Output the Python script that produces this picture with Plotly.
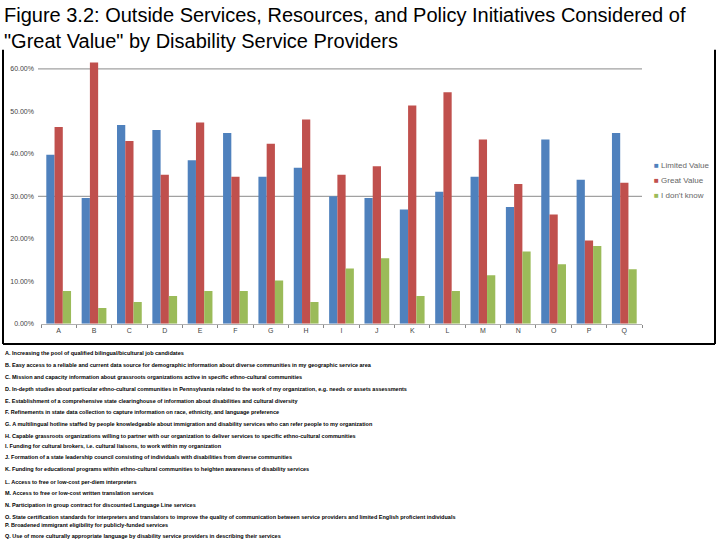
import plotly.graph_objects as go

categories = list("ABCDEFGHIJKLMNOPQ")
limited_value = [39.8, 29.6, 46.8, 45.6, 38.5, 44.9, 34.6, 36.7, 30.0, 29.6, 26.9, 31.1, 34.6, 27.5, 43.4, 33.9, 44.9]
great_value = [46.3, 61.5, 43.0, 35.1, 47.4, 34.6, 42.4, 48.1, 35.1, 37.1, 51.4, 54.5, 43.4, 32.9, 25.7, 19.6, 33.2]
dont_know = [7.7, 3.7, 5.1, 6.5, 7.7, 7.7, 10.2, 5.1, 13.0, 15.4, 6.5, 7.7, 11.4, 17.0, 14.0, 18.3, 12.8]
series_names = ["Limited Value", "Great Value", "I don't know"]
y_ticks = [0, 0.1, 0.2, 0.3, 0.4, 0.5, 0.6]
grid_values = [0.3, 0.6]

notes = [
    "A. Increasing the pool of qualified bilingual/bicultural job candidates",
    "B. Easy access to a reliable and current data source for demographic information about diverse communities in my geographic service area",
    "C. Mission and capacity information about grassroots organizations active in specific ethno-cultural communities",
    "D. In-depth studies about particular ethno-cultural communities in Pennsylvania related to the work of my organization, e.g. needs or assets assessments",
    "E. Establishment of a comprehensive state clearinghouse of information about disabilities and cultural diversity",
    "F. Refinements in state data collection to capture information on race, ethnicity, and language preference",
    "G. A multilingual hotline staffed by people knowledgeable about immigration and disability services who can refer people to my organization",
    "H. Capable grassroots organizations willing to partner with our organization to deliver services to specific ethno-cultural communities",
    "I. Funding for cultural brokers, i.e. cultural liaisons, to work within my organization",
    "J. Formation of a state leadership council consisting of individuals with disabilities from diverse communities",
    "K. Funding for educational programs within ethno-cultural communities to heighten awareness of disability services",
    "L. Access to free or low-cost per-diem interpreters",
    "M. Access to free or low-cost written translation services",
    "N. Participation in group contract for discounted Language Line services",
    "O. State certification standards for interpreters and translators to improve the quality of communication between service providers and limited English proficient individuals",
    "P. Broadened immigrant eligibility for publicly-funded services",
    "Q. Use of more culturally appropriate language by disability service providers in describing their services",
]

title_text = 'Figure 3.2: Outside Services, Resources, and Policy Initiatives Considered of<br>"Great Value" by Disability Service Providers'

colors = ["#4F81BD", "#C0504D", "#9BBB59"]
W, H = 720, 540

def px_y(p):
    return (H - p) / H

def px_x(p):
    return p / W

fig = go.Figure()
for name, vals, col in zip(series_names, [limited_value, great_value, dont_know], colors):
    fig.add_trace(go.Bar(x=categories, y=[v / 100 for v in vals], name=name,
                         marker=dict(color=col, line=dict(width=0)), showlegend=False))

plot_top_px = 51.5
plot_bot_px = 325.5
y_max = 0.60 * (plot_bot_px - plot_top_px) / (325.5 - 69.3)

shapes = []
for g in grid_values:
    shapes.append(dict(type="line", xref="paper", yref="y", x0=px_x(38), x1=px_x(642), y0=g, y1=g,
                       line=dict(color="#8a8a8a", width=1), layer="below"))
# frame
shapes.append(dict(type="line", xref="paper", yref="paper", x0=px_x(3), x1=px_x(3), y0=px_y(50), y1=px_y(346),
                   line=dict(color="black", width=2)))
shapes.append(dict(type="line", xref="paper", yref="paper", x0=px_x(715), x1=px_x(715), y0=px_y(50), y1=px_y(346),
                   line=dict(color="black", width=2)))
shapes.append(dict(type="line", xref="paper", yref="paper", x0=px_x(3), x1=px_x(715), y0=px_y(346), y1=px_y(346),
                   line=dict(color="black", width=2)))

annotations = []
# title
annotations.append(dict(text=title_text, xref="paper", yref="paper", x=px_x(2), y=px_y(2),
                        xanchor="left", yanchor="top", align="left", showarrow=False,
                        font=dict(family="Liberation Sans, Arial", size=20, color="black")))
# legend
leg_y = [166, 182, 197]
for name, col, yy in zip(series_names, colors, leg_y):
    annotations.append(dict(text=f"<span style='color:{col}'>■</span> {name}", xref="paper", yref="paper",
                            x=px_x(652), y=px_y(yy), xanchor="left", yanchor="middle", showarrow=False,
                            font=dict(family="Liberation Sans, Arial", size=8, color="#666666")))
# notes
note_y = [355, 367, 379, 391, 403, 414, 426, 438, 448, 460, 472, 485, 496, 508, 520, 528, 539]
for t, yy in zip(notes, note_y):
    annotations.append(dict(text=f"<b>{t}</b>", xref="paper", yref="paper", x=px_x(3), y=px_y(yy),
                            xanchor="left", yanchor="middle", showarrow=False,
                            font=dict(family="Liberation Sans, Arial", size=5.5, color="black")))

fig.update_layout(
    width=W, height=H,
    margin=dict(l=0, r=0, t=0, b=0),
    paper_bgcolor="white", plot_bgcolor="white",
    barmode="group", bargap=0.3, bargroupgap=0,
    xaxis=dict(domain=[px_x(41), px_x(642)], showgrid=False, showline=True, linecolor="#b0b0b0",
               ticks="outside", tickson="boundaries", ticklen=3, tickcolor="#888888",
               tickfont=dict(family="Liberation Sans, Arial", size=7, color="#444444")),
    yaxis=dict(domain=[px_y(plot_bot_px), px_y(plot_top_px)], range=[0, y_max], tickvals=y_ticks,
               tickformat=".2%", showgrid=False, showline=False, zeroline=False,
               ticklabelstandoff=6,
               tickfont=dict(family="Liberation Sans, Arial", size=7, color="#444444")),
    shapes=shapes, annotations=annotations,
)

fig.write_html("out.html", config={"displayModeBar": False},
               post_script="document.body.style.margin='0px';")
